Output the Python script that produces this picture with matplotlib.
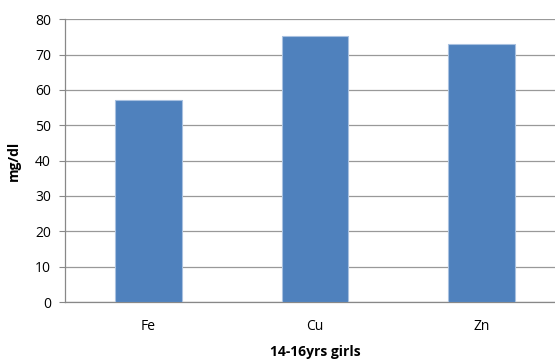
import numpy as np
import matplotlib.pyplot as plt

plt.rcParams['font.family'] = ['Open Sans', 'DejaVu Sans']

elements = ['Fe', 'Cu', 'Zn']
levels = [57.1, 75.2, 73.0]
yticks = [0, 10, 20, 30, 40, 50, 60, 70, 80]

fig = plt.figure(figsize=(5.55, 3.62), dpi=100)
# plot area runs a little past the right edge of the figure
ax = fig.add_axes([65 / 555, 60 / 362, 500 / 555, 282.7 / 362])

x = np.arange(len(elements))
ax.bar(x, levels, width=0.4, color='#4F81BD', edgecolor='#A9C1E0',
       linewidth=0.8, zorder=3)

ax.set_xlim(-0.5, len(elements) - 0.5)
ax.set_ylim(0, 80)
ax.set_yticks(yticks)
ax.set_xticks(x)
ax.set_xticklabels(elements)
ax.yaxis.grid(True, color='#999999', linewidth=0.9, zorder=0)

for side in ['top', 'right']:
    ax.spines[side].set_visible(False)
for side in ['left', 'bottom']:
    ax.spines[side].set_color('#888888')
    ax.spines[side].set_linewidth(0.9)

ax.tick_params(axis='y', length=4, color='#888888', labelsize=10, pad=6)
ax.tick_params(axis='x', length=0, labelsize=10, pad=12)

ax.set_ylabel('mg/dl', fontsize=10, fontweight='bold', labelpad=10)
ax.set_xlabel('14-16yrs girls', fontsize=10, fontweight='bold', labelpad=8)

plt.savefig('out.png', dpi=100)
